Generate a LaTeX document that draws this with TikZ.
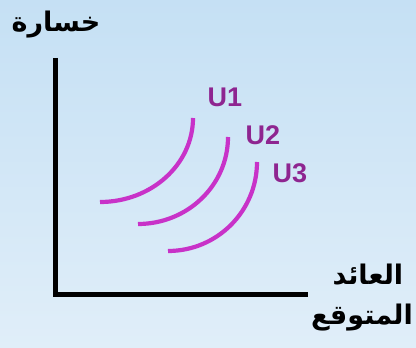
\documentclass[tikz,border=0pt]{standalone}
\usepackage{fontspec}
\setmainfont{Liberation Sans}
\newfontfamily\arabicfont[Script=Arabic]{DejaVu Sans}
\TeXXeTstate=1
\definecolor{bgtop}{HTML}{C5E0F4}
\definecolor{bgbottom}{HTML}{E0EEF9}
\definecolor{curvemag}{HTML}{C832C8}
\definecolor{labelpurple}{HTML}{8E2590}

\begin{document}
\begin{tikzpicture}[x=1pt,y=1pt]
	\tikzset{axis/.style = {draw=black,line width=5pt,line join=miter}}
	
	\tikzset{ucurve/.style = {draw=curvemag,line width=4.2pt}}
	
	\tikzset{ulabel/.style = {text=labelpurple,font=\fontsize{27}{30}\selectfont\bfseries}}
	
	\tikzset{arlabel/.style = {font=\arabicfont\fontsize{27}{32}\selectfont\bfseries,align=center}}
	
	% background
	\shade[top color=bgtop,bottom color=bgbottom] (0,0) rectangle (416,348);
	\useasboundingbox (0,0) rectangle (416,348);
	
	% axes
	\coordinate (ytop) at (55,290);
	\coordinate (origin) at (55,53);
	\coordinate (xend) at (308,53);
	\draw[axis] (ytop) -- (origin) -- (xend);
	
	\node[arlabel] (loss) at (56,323) {\beginR خسارة\endR};
	\node[arlabel] (ret1) at (368,73) {\beginR العائد\endR};
	\node[arlabel] (ret2) at (362,30) {\beginR المتوقع\endR};
	
	% curves
	\coordinate (u1) at (193,230);
	\coordinate (u2) at (228,211);
	\coordinate (u3) at (257,186);
	
	\draw[ucurve] (u1) arc[start angle=0,end angle=-90,x radius=93,y radius=84];
	\draw[ucurve] (u2) arc[start angle=0,end angle=-90,x radius=90,y radius=87];
	\draw[ucurve] (u3) arc[start angle=0,end angle=-90,x radius=89,y radius=89];
	
	\node[ulabel] (U1) at (225,251) {U1};
	\node[ulabel] (U2) at (263,213) {U2};
	\node[ulabel] (U3) at (290,175) {U3};
\end{tikzpicture}
\end{document}
